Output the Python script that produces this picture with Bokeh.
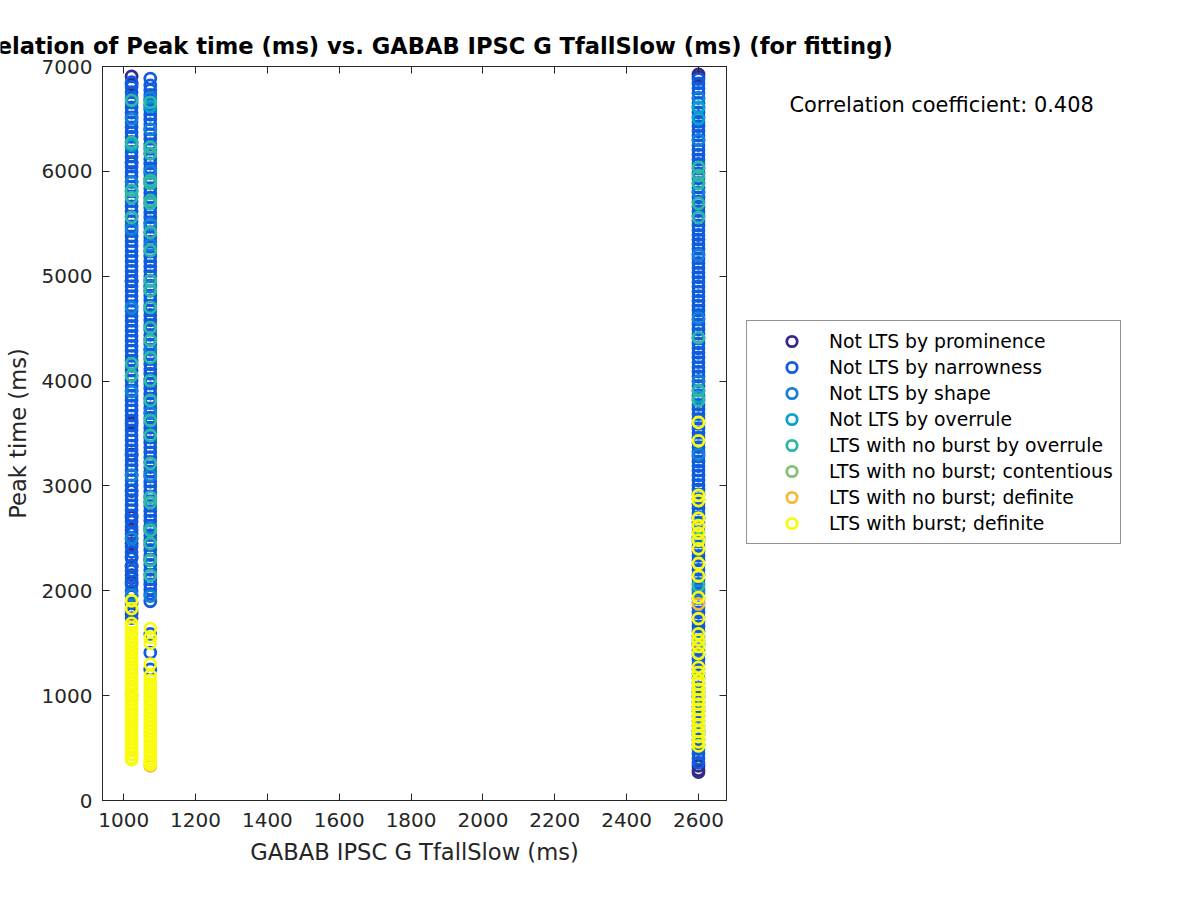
from bokeh.plotting import figure
from bokeh.layouts import column, row
from bokeh.models import (ColumnDataSource, Range1d, LinearAxis, FixedTicker,
                          Legend, LegendItem, Label)
from bokeh.embed import file_html
from bokeh.resources import INLINE

# ---------------- data ----------------
categories = ["Not LTS by prominence", "Not LTS by narrowness", "Not LTS by shape",
              "Not LTS by overrule", "LTS with no burst by overrule",
              "LTS with no burst; contentious", "LTS with no burst; definite",
              "LTS with burst; definite"]
colors = ["#352a87", "#0f5cdd", "#1481d6", "#06a4ca", "#2eb7a4",
          "#87bf77", "#f8b83a", "#f9fb0e"]

# x values (GABAB IPSC G TfallSlow, ms) of the three columns
x_cols = [1022, 1074, 2600]

# Peak time (ms) per category, per column
prom_c1 = [6905, 6830, 6080, 4950, 3600, 3300, 2950, 2700, 2580, 2450, 2330, 2230, 2150, 2080, 1780]
prom_c2 = []
prom_c3 = [6925, 6900, 330, 290, 270]

narrow_c1 = [6850, 6805, 6755, 6700, 6655, 6610, 6560, 6515, 6470, 6420, 6370, 6330, 6280, 6235,
             6185, 6140, 6090, 6045, 5995, 5950, 5900, 5855, 5810, 5760, 5715, 5665, 5620, 5570,
             5525, 5475, 5430, 5380, 5335, 5285, 5240, 5190, 5145, 5095, 5050, 5000, 4955, 4905,
             4860, 4810, 4765, 4715, 4670, 4620, 4575, 4525, 4480, 4430, 4385, 4335, 4290, 4240,
             4195, 4145, 4100, 4050, 4005, 3955, 3910, 3860, 3815, 3765, 3720, 3670, 3625, 3575,
             3530, 3480, 3435, 3385, 3340, 3290, 3245, 3195, 3150, 3100, 3055, 3005, 2960, 2910,
             2865, 2815, 2770, 2720, 2660, 2610, 2545, 2490, 2420, 2370, 2310, 2240, 2190, 2120,
             2060, 2000, 1950, 1880, 1810, 1740]
narrow_c2 = [6885, 6820, 6775, 6730, 6680, 6635, 6590, 6540, 6495, 6450, 6400, 6355, 6310, 6260,
             6215, 6170, 6120, 6075, 6030, 5980, 5935, 5890, 5840, 5795, 5750, 5700, 5655, 5610,
             5560, 5515, 5470, 5420, 5375, 5330, 5280, 5235, 5190, 5140, 5095, 5050, 5000, 4955,
             4910, 4860, 4815, 4770, 4720, 4675, 4630, 4580, 4535, 4490, 4440, 4395, 4350, 4300,
             4255, 4210, 4160, 4115, 4070, 4020, 3975, 3930, 3880, 3835, 3790, 3740, 3695, 3650,
             3600, 3555, 3510, 3460, 3415, 3370, 3320, 3275, 3230, 3180, 3135, 3090, 3040, 2995,
             2950, 2900, 2855, 2810, 2760, 2715, 2670, 2620, 2575, 2530, 2480, 2435, 2390, 2340,
             2295, 2250, 2200, 2155, 2110, 2060, 2015, 1970, 1900, 1590, 1410, 1250]
narrow_c3 = [6880, 6838, 6790, 6748, 6700, 6652, 6610, 6562, 6520, 6473, 6430, 6382, 6340, 6296,
             6250, 6204, 6160, 6113, 6070, 6027, 5980, 5934, 5890, 5846, 5800, 5752, 5710, 5663,
             5620, 5577, 5530, 5484, 5440, 5393, 5350, 5307, 5260, 5214, 5170, 5126, 5080, 5033,
             4990, 4946, 4900, 4853, 4810, 4766, 4720, 4673, 4630, 4586, 4540, 4493, 4450, 4406,
             4360, 4313, 4270, 4226, 4180, 4133, 4090, 4046, 4000, 3953, 3910, 3866, 3820, 3773,
             3730, 3686, 3640, 3593, 3550, 3506, 3460, 3413, 3370, 3326, 3280, 3233, 3190, 3146,
             3100, 3053, 3010, 2966, 2920, 2873, 2830, 2786, 2740, 2693, 2650, 2606, 2560, 2513,
             2470, 2426, 2380, 2333, 2290, 2246, 2200, 2153, 2110, 2066, 2020, 1973, 1930, 1886,
             1840, 1793, 1750, 1706, 1660, 1613, 1570, 1526, 1480, 1433, 1390, 1346, 1300, 1253,
             1210, 1166, 1120, 1073, 1030, 986, 940, 893, 850, 806, 760, 713, 670, 626, 580, 533,
             490, 446, 400, 360]

shape_c1 = [6500, 5900, 5450, 4700, 3900, 3100, 2500, 1960]
shape_c2 = [6700, 6400, 6000, 5500, 5300, 4900, 4300, 3700, 3100, 2600, 2300, 1950]
shape_c3 = [6700, 6300, 5800, 5200, 4600, 4000, 3300, 2700, 2000, 1500, 1000, 650]

overr_c1 = [6250]
overr_c2 = [6620]
overr_c3 = [6609, 6504, 3850]

nbover_c1 = [6676, 6275, 5817, 5750, 5560, 4167, 4053]
nbover_c2 = [6657, 6230, 6170, 5913, 5884, 5722, 5693, 5417, 5245, 4960, 4864, 4702, 4510,
             4387, 4225, 4005, 3815, 3624, 3481, 3214, 2890, 2842, 2575, 2451, 2289, 2146]
nbover_c3 = [6037, 5960, 5884, 5693, 5560, 4415, 3910, 3815, 2500, 2050]

nbcont_c1 = [1000]
nbcont_c2 = []
nbcont_c3 = []

nbdef_c1 = []
nbdef_c2 = [330]
nbdef_c3 = [1875]

burst_c1 = [1905, 1830, 1690, 1650, 1600, 1565, 1525, 1490, 1450, 1415, 1375, 1340, 1300, 1265,
            1225, 1190, 1150, 1115, 1075, 1040, 1000, 965, 925, 890, 850, 815, 775, 740, 700,
            665, 625, 590, 550, 515, 475, 440, 405, 390]
burst_c2 = [1640, 1555, 1500, 1300, 1190, 1145, 1110, 1070, 1035, 995, 960, 920, 885, 845, 810,
            770, 735, 695, 660, 620, 585, 545, 510, 470, 435, 400, 370, 345]
burst_c3 = [3605, 3430, 2910, 2860, 2690, 2620, 2550, 2480, 2400, 2260, 2140, 1935, 1735, 1590,
            1530, 1470, 1400, 1270, 1220, 1150, 1110, 1060, 1010, 960, 920, 870, 820, 770, 720,
            660, 610, 560, 520]

series = [
    (prom_c1, prom_c2, prom_c3),
    (narrow_c1, narrow_c2, narrow_c3),
    (shape_c1, shape_c2, shape_c3),
    (overr_c1, overr_c2, overr_c3),
    (nbover_c1, nbover_c2, nbover_c3),
    (nbcont_c1, nbcont_c2, nbcont_c3),
    (nbdef_c1, nbdef_c2, nbdef_c3),
    (burst_c1, burst_c2, burst_c3),
]

x_ticks = [1000, 1200, 1400, 1600, 1800, 2000, 2200, 2400, 2600]
y_ticks = [0, 1000, 2000, 3000, 4000, 5000, 6000, 7000]

corr_text = "Correlation coefficient: 0.408"
title_text = "Correlation of Peak time (ms) vs. GABAB IPSC G TfallSlow (ms) (for fitting)"

# ---------------- layout constants (pixels) ----------------
FONT = "DejaVu Sans"
AX = "#262626"
TOTAL_W = 1184
STRIP_H = 59
MAIN_W = 736
BODY_H = 831
SIDE_W = TOTAL_W - MAIN_W
FRAME_H = 734


def blank_fig(w, h, xr, yr):
    f = figure(width=w, height=h, output_backend="svg", toolbar_location=None,
               x_range=xr, y_range=yr, min_border=0,
               x_axis_location=None, y_axis_location=None,
               background_fill_color="white", border_fill_color="white")
    f.grid.visible = False
    f.outline_line_color = None
    return f


# ---------------- title strip ----------------
top = blank_fig(TOTAL_W, STRIP_H, Range1d(0, TOTAL_W), Range1d(0, STRIP_H))
top.add_layout(Label(x=417, y=1, text=title_text, text_font=FONT,
                     text_font_size="22.6px", text_font_style="bold",
                     text_color="black", text_align="center",
                     text_baseline="bottom"))

# ---------------- main plot ----------------
p = figure(width=MAIN_W, height=BODY_H, output_backend="svg", toolbar_location=None,
           x_range=Range1d(941, 2678), y_range=Range1d(0, 7000),
           min_border_left=102, min_border_right=10, min_border_top=7,
           min_border_bottom=90, x_axis_location=None, y_axis_location=None,
           background_fill_color="white", border_fill_color="white")
p.grid.visible = False
p.outline_line_color = AX
p.outline_line_width = 1


def style_axis(ax, labels=True):
    ax.major_tick_in = 7
    ax.major_tick_out = 0
    ax.minor_tick_line_color = None
    ax.axis_line_color = AX
    ax.major_tick_line_color = AX
    ax.major_label_text_font = FONT
    ax.axis_label_text_font = FONT
    ax.axis_label_text_color = AX
    ax.axis_label_text_font_style = "normal"
    if labels:
        ax.major_label_text_color = AX
        ax.major_label_text_font_size = "20px"
        ax.axis_label_text_font_size = "22.6px"
    else:
        ax.major_label_text_color = None
        ax.major_label_text_font_size = "0px"
        ax.major_label_standoff = 0


xb = LinearAxis(ticker=FixedTicker(ticks=x_ticks), axis_label="GABAB IPSC G TfallSlow (ms)")
style_axis(xb)
xb.major_label_standoff = 12
xb.axis_label_standoff = 9
p.add_layout(xb, "below")

yl = LinearAxis(ticker=FixedTicker(ticks=y_ticks), axis_label="Peak time (ms)")
style_axis(yl)
yl.major_label_standoff = 10
yl.axis_label_standoff = 8
p.add_layout(yl, "left")

xt = LinearAxis(ticker=FixedTicker(ticks=x_ticks))
style_axis(xt, labels=False)
p.add_layout(xt, "above")

yr = LinearAxis(ticker=FixedTicker(ticks=y_ticks))
style_axis(yr, labels=False)
p.add_layout(yr, "right")

# ---------------- side panel: legend + correlation text ----------------
side = blank_fig(SIDE_W, BODY_H, Range1d(0, SIDE_W), Range1d(0, FRAME_H))

items = []
for name, col, cols in zip(categories, colors, series):
    xs, ys = [], []
    for xv, yv in zip(x_cols, cols):
        xs += [xv] * len(yv)
        ys += list(yv)
    src = ColumnDataSource(dict(x=xs, y=ys))
    style = dict(marker="circle", size=11, fill_color=None, line_color=col, line_width=2.8)
    p.scatter("x", "y", source=src, **style)
    # same data in the side panel: lies outside its view, only feeds the legend glyph
    r = side.scatter("x", "y", source=src, **style)
    items.append(LegendItem(label=name, renderers=[r]))

legend = Legend(items=items, location=(10, 256), orientation="vertical",
                label_text_font=FONT, label_text_font_size="18.8px",
                label_text_color="black", glyph_width=75, glyph_height=26,
                label_height=26, label_standoff=0, spacing=0, padding=7,
                margin=0, border_line_color=AX, border_line_width=1,
                background_fill_color="white", background_fill_alpha=1)
side.add_layout(legend, "center")

side.add_layout(Label(x=53, y=696, text=corr_text, text_font=FONT,
                      text_font_size="20.9px", text_color="black",
                      text_baseline="alphabetic", text_align="left"))

layout = column(top, row(p, side, spacing=0), spacing=0)
open("out.html", "w").write(file_html(layout, INLINE))
